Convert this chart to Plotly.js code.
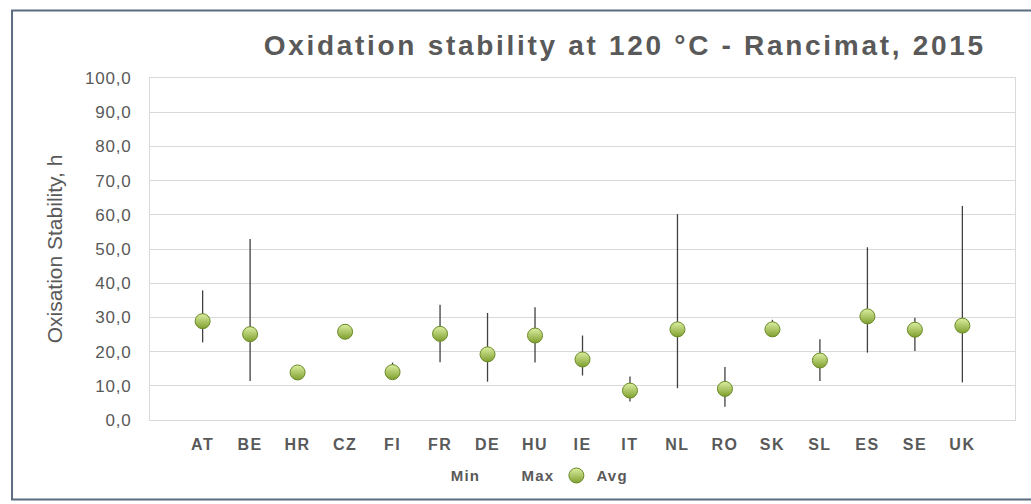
<!DOCTYPE html>
<html>
<head>
<meta charset="utf-8">
<script src="https://cdn.plot.ly/plotly-3.0.1.min.js"></script>
<style>
html,body{margin:0;padding:0;background:#fff;}
#chart{width:1031px;height:504px;}
#chart .gtitle{letter-spacing:2.7px;}
#chart .xtick text{letter-spacing:1.5px;}
#chart .ytick text{letter-spacing:0.8px;}
#chart .legendtext{letter-spacing:1.2px;}
</style>
</head>
<body>
<div id="chart"></div>
<script>
var countries = ["AT","BE","HR","CZ","FI","FR","DE","HU","IE","IT","NL","RO","SK","SL","ES","SE","UK"];
var minVals = [22.7, 11.4, 13.0, 24.5, 13.2, 16.9, 11.2, 16.8, 13.0, 5.4, 9.3, 3.9, 25.5, 11.4, 19.7, 20.2, 11.0];
var maxVals = [37.9, 52.9, 14.8, 28.1, 16.8, 33.7, 31.3, 33.0, 24.7, 12.7, 60.2, 15.5, 29.3, 23.6, 50.5, 29.9, 62.6];
var avgVals = [28.9, 25.1, 13.9, 25.8, 14.0, 25.2, 19.2, 24.7, 17.7, 8.6, 26.5, 9.1, 26.5, 17.4, 30.3, 26.4, 27.6];
var yTickVals = [0,10,20,30,40,50,60,70,80,90,100];

var errPlus = maxVals.map(function(v,i){return v - avgVals[i];});
var errMinus = avgVals.map(function(v,i){return v - minVals[i];});

var gray = '#595959';
var fontFam = '"Liberation Sans", Arial, sans-serif';

var traces = [
  {
    type:'scatter', mode:'markers', name:'Min',
    x: countries, y: minVals,
    marker:{size:1, color:'rgba(0,0,0,0)', line:{width:0}},
    hoverinfo:'skip'
  },
  {
    type:'scatter', mode:'markers', name:'Max',
    x: countries, y: maxVals,
    marker:{size:1, color:'rgba(0,0,0,0)', line:{width:0}},
    hoverinfo:'skip'
  },
  {
    type:'scatter', mode:'markers', name:'Avg',
    x: countries, y: avgVals,
    error_y:{type:'data', symmetric:false, array:errPlus, arrayminus:errMinus,
             color:'#404040', thickness:1.3, width:0},
    marker:{size:15, color:'#dcefa2',
            gradient:{type:'vertical', color:'#7f9f2e'},
            line:{width:1, color:'#6a8a26'}}
  }
];

var layout = {
  width:1031, height:504,
  paper_bgcolor:'#ffffff', plot_bgcolor:'#ffffff',
  separators:',.',
  margin:{l:150, r:16, t:78, b:82},
  font:{family:fontFam, color:gray},
  title:{
    text:'Oxidation stability at 120 °C - Rancimat, 2015',
    font:{family:fontFam, size:28, color:gray, weight:'bold'},
    xref:'container', yref:'container',
    x:0.606, xanchor:'center', y:0.911, yanchor:'middle'
  },
  xaxis:{
    type:'category',
    showgrid:false, zeroline:false,
    showline:true, mirror:true, linecolor:'#d9d9d9', linewidth:1,
    ticks:'', ticklabelstandoff:10,
    tickfont:{family:fontFam, size:16, color:gray, weight:'bold'}
  },
  yaxis:{
    range:[0,100], tickvals:yTickVals, tickformat:'.1f',
    showgrid:true, gridcolor:'#d9d9d9', gridwidth:1,
    zeroline:false,
    showline:true, mirror:true, linecolor:'#d9d9d9', linewidth:1,
    ticks:'', ticklabelstandoff:14,
    tickfont:{family:fontFam, size:17, color:gray},
    title:{text:'Oxisation Stability, h', font:{family:fontFam, size:21, color:gray}, standoff:20}
  },
  showlegend:true,
  legend:{
    orientation:'h', x:0.428, xanchor:'center', y:-0.163, yanchor:'middle',
    font:{family:fontFam, size:15, color:gray, weight:'bold'},
    itemwidth:30, traceorder:'normal', bgcolor:'rgba(0,0,0,0)'
  },
  shapes:[
    {type:'rect', xref:'paper', yref:'paper',
     x0:-0.1595, x1:1.04, y0:-0.2326, y1:1.1977,
     line:{color:'#5b6b82', width:2}, fillcolor:'rgba(0,0,0,0)', layer:'above'}
  ]
};

Plotly.newPlot('chart', traces, layout, {displayModeBar:false, staticPlot:true});
</script>
</body>
</html>
